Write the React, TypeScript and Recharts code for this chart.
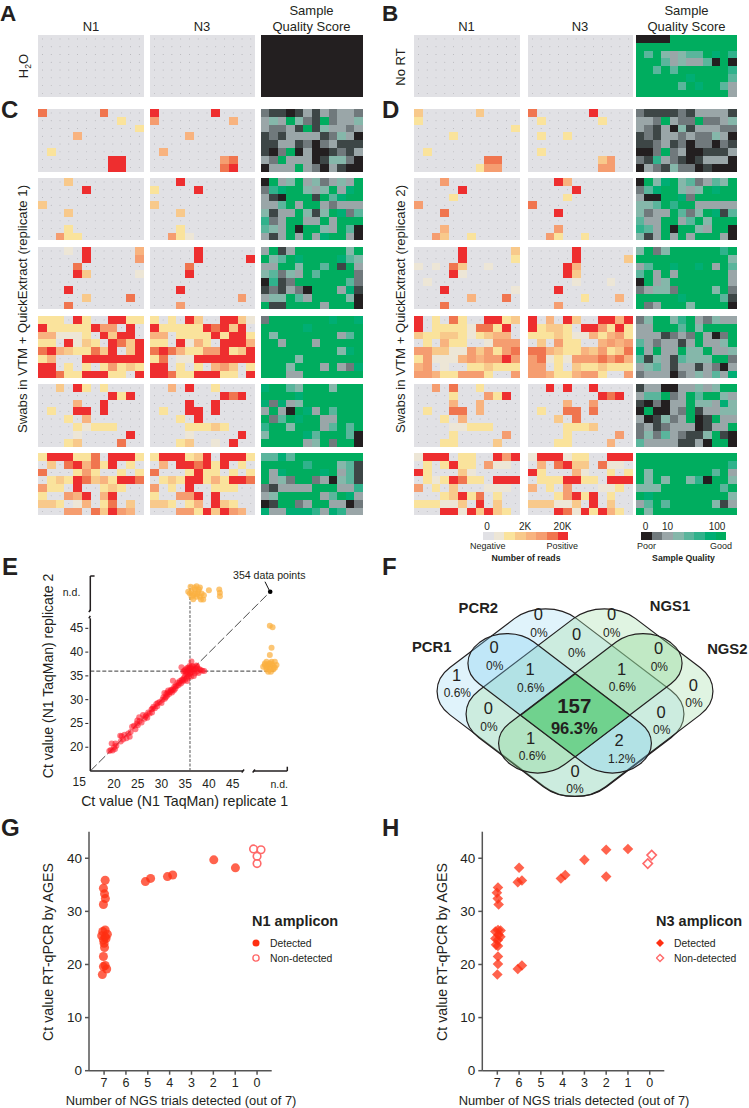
import React from "react";
import { ScatterChart, Scatter, XAxis, YAxis, ReferenceLine, Legend } from "recharts";

// ---------- plate data: each digit is a binned read level (0-7) or quality level (0-8) ----------
const EMPTY = ["000000000000","000000000000","000000000000","000000000000","000000000000","000000000000","000000000000","000000000000"];
const A_Q = ["000000000000","000000000000","000000000000","000000000000","000000000000","000000000000","000000000000","000000000000"];
const B_Q = ["000088888888","888888888888","858434558786","888534335080","885858888886","888888788885","888885878853","888888888883"];

const C1_N1 = ["600000060000","000000000200","000000000002","000040000000","000000000000","020000000000","000000007700","000000007700"];
const C1_N3 = ["700000070000","500000000400","000000000000","000040000000","000000000000","040000000000","000000005600","000000006700"];
const C1_Q = ["211013132332","343842182334","322318143323","121333312430","113312023111","102803001213","328333014420","033383203100"];
const C2_N1 = ["000300000000","000007000000","000000000000","300000000000","000300000000","000000000000","000200000000","005220000000"];
const C2_N3 = ["000700000000","200007000000","000000000000","300000000000","000300000000","000000000000","000200000000","005210000000"];
const C2_Q = ["083483423438","267884348378","310888185788","335838832333","413384148725","623883383888","543808843850","313838378830"];
const C3_N1 = ["000107000004","000007000005","000060000000","000073000001","000000000000","000700000000","000003000060","000600000000"];
const C3_N3 = ["000007000000","000007000007","000060000000","000070000000","000000000000","000700000000","000000000050","000500000000"];
const C3_Q = ["381388888848","845878888754","338848858183","452438588882","061288888852","121320888371","344853888840","811888838880"];
const C4_N1 = ["222072007722","722222755070","441112073770","220713207637","674322637037","240007777777","770202025232","776227772207"];
const C4_N3 = ["202073007731","722222767370","440222272772","220714207774","676422557237","260117777777","770202045302","776227772207"];
const C4_Q = ["288888887887","888887888888","848888888358","883888388888","888888888478","888848888888","888488838327","888338888888"];
const C5_N1 = ["003072020000","000000007270","000040070000","020077070000","000204000000","000021222000","000010000070","000230000600"];
const C5_N3 = ["004070020000","000000007670","000070070000","020077070000","000207000000","000022232000","000010000070","000230010700"];
const C5_Q = ["788548884888","888878888888","727348888888","383087385888","825878833888","688488835858","488887588850","888883482880"];
const C6_N1 = ["277722607772","030674627020","600025200202","023276342776","522070023200","200547047000","332014026030","000550637540"];
const C6_N3 = ["277723707772","040776727020","600027220202","023277242776","502070022200","200557070000","332024073200","000552737540"];
const C6_Q = ["557588888888","888886888451","837888878351","834288230451","213333888336","348888835873","018823883302","733777637633"];

const D1_N1 = ["300000030000","200000000000","000000000002","000020000000","000000000000","020000000000","000000006600","000000025500"];
const D1_N3 = ["600000070000","020000002000","000000000000","020020000000","000000000000","020000000000","000000003500","000000005500"];
const D1_Q = ["211112133331","332832282234","321304133322","121332322430","112312022021","002823001113","216321013330","032142201000"];
const D2_N1 = ["000500000000","000007000000","000020000000","500000000000","000600000000","000000000000","000400000000","005300200000"];
const D2_N3 = ["000740000000","000007000000","000020000000","600000000000","000700000000","000000000000","000500000000","005200200000"];
const D2_Q = ["084784523548","257884348788","300887288888","445868833333","423385248715","533883584888","653808843880","413838388830"];
const D3_N1 = ["000007000003","000007000002","101063001000","000071000000","010000000000","000700000001","000000400060","000600000000"];
const D3_N3 = ["000007000000","000007000003","000074000000","000073000000","000001000100","000700000000","000000200040","000500000000"];
const D3_Q = ["482488888868","888888888884","358878878385","583838888883","083488888883","234428888482","888887888851","823888488880"];
const D4_N1 = ["702062007723","702222166270","322332123440","020422001555","553311535256","251114545575","450100223222","554225552005"];
const D4_N3 = ["704073007747","723320775272","222321142452","030522004545","664322435236","561215556564","550203223222","554224552005"];
const D4_Q = ["248846832433","338885848888","333123283028","532331383348","738338448334","514315444882","345313313203","233302343537"];
const D5_N1 = ["005060020000","000020005270","000040040000","020066040000","000204000000","000011222000","000020000050","000220000300"];
const D5_N3 = ["007070070000","000000007670","000040050000","020066060000","000306000000","000022230000","000020000050","000220000400"];
const D5_Q = ["133003343488","355823858843","102033844374","080032813344","301423801833","231233301338","242532114810","533331130880"];
const D6_N1 = ["177702200757","020272205110","720003100000","021276220777","502030001110","000237260200","222113070300","000771737320"];
const D6_N3 = ["177712200777","040673306110","720004100202","022277220777","402050001120","000257270200","333113070300","000761727420"];
const D6_Q = ["888888888888","888888888886","848888888583","848488460884","444888888858","878888888884","358588888413","848888888888"];

const HEAT_LEGEND = ["01234567"];
const QUAL_LEGEND = ["02345678"];

// ---------- panel E ----------
const E_RED: number[][] = [[19,19.2],[19.3,19.4],[19.7,19.3],[20,20],[20.2,19.6],[20.5,20.3],[20.3,20.8],[19.5,20.8],[21.4,21.2],[21.6,22.3],[21.9,21.6],[21.3,22.4],[22.2,22.6],[22.6,21.9],[23,22.9],[23.3,22.2],[23.5,23.2],[23.8,24.3],[24.2,24.5],[24.5,23.8],[24.8,25],[25,24.6],[25.4,25.5],[25.3,26.3],[25.8,25.2],[26.1,26.8],[26.4,26],[26.8,26.7],[27,26.2],[27.2,27.3],[27.5,27.1],[27.9,28],[28,27.3],[28.3,28.5],[28.6,28.2],[28.9,29.1],[29.1,28.6],[29.2,29.3],[30,29.3],[30.2,30],[30.4,30.5],[30.6,31.4],[30.9,30.5],[31,31.2],[31.2,30.8],[31.4,31.9],[31.6,31.2],[31.8,31.6],[32,32.1],[32.2,31.5],[32.4,32.2],[32.6,31.9],[32.7,32.7],[32.4,34],[32.9,32.3],[33.2,32.8],[33.4,33.6],[33.6,33.1],[33.9,33.9],[34.1,33.4],[34.3,34.2],[34.5,33.8],[34.7,34.5],[34.9,34.9],[35,34.2],[35.2,35.4],[35.4,34.6],[35.6,35.2],[35.8,34.9],[36,35.5],[34.2,36.8],[34.6,35.9],[34.8,36],[35,36.3],[35.2,35.8],[35.3,36.6],[35.5,36.1],[35.6,36.7],[35.7,35.9],[35.8,36.4],[35.9,37.1],[36,36.2],[36.1,36.8],[36.2,35.7],[36.3,36.5],[36.3,38],[36.4,37.1],[36.5,35.8],[36.6,36.4],[36.7,36.9],[36.9,36.2],[37,35.5],[37.2,36.5],[37.3,37.2],[37.5,35.9],[37.6,36.6],[37.8,35.6],[38,36.4],[38.3,36.2],[38.6,36.1],[39,36],[36.8,35],[36.2,34.8],[35.4,33.9],[37.5,37],[24.9,25.6],[26.6,26.4],[28.1,28.1],[29.6,29.5],[30.7,30.2],[31.3,31.5],[32.1,31.9],[33,33],[33.7,33.5],[34.4,34.1]];
const E_ORANGE_TOP: number[][] = [[36.12,53.73],[37.39,53.86],[38.09,53.58],[35.63,52.67],[36.33,52.67],[37.04,53.16],[37.74,52.67],[38.44,52.32],[36.68,51.97],[37.39,51.62],[38.79,51.06],[38.09,51.62],[36.33,51.62],[35.98,52.32],[37.04,52.32],[37.88,53.16],[36.89,53.58],[38.93,51.97],[39.98,53.03],[42.16,53.16],[42.3,52.47],[42.3,51.76],[36.68,51.13],[38.3,51.06],[37.53,52.18]];
const E_ORANGE_RIGHT: number[][] = [[52.82,45.53],[53.39,45.25],[53.18,40.91],[52.82,39.37],[52.12,37.97],[53.18,37.97],[53.88,37.97],[51.77,37.27],[52.47,37.27],[53.39,37.27],[54.23,37.27],[51.42,36.92],[52.12,36.78],[52.96,36.92],[53.67,36.78],[51.77,37.62],[52.68,37.62],[52.12,36.36],[52.82,36.36],[53.53,36.36],[52.47,35.87],[53.04,35.87],[52.3,37.0],[53.0,37.6],[53.9,36.7]];
const E_END = [{ x: 52.9, y: 52.7 }];
const E_X_TICKS = [15, 20, 25, 30, 35, 40, 45, 52.9];
const E_Y_TICKS = [20, 25, 30, 35, 40, 45, 52.7];

// ---------- panel F ----------
const VENN_REGIONS = ["A","B","C","D","AB","BC","CD","ABC","BCD","AC","BD","ACD","ABD","AD"];
const VENN_COUNTS = ["1","0","0","0","0","0","0","1","1","0","0","1","2","0"];
const VENN_PCTS = ["0.6%","0%","0%","0%","0%","0%","0%","0.6%","0.6%","0%","0%","0.6%","1.2%","0%"];
const VENN_TOTAL = "157";
const VENN_TOTAL_PCT = "96.3%";
const VENN_SETS = ["PCR1","PCR2","NGS1","NGS2"];

// ---------- panels G, H ----------
const G_DETECTED: number[][] = [[6.95,35.85],[7.03,34.35],[6.98,33.3],[6.94,32.4],[7.03,31.3],[6.95,26.5],[7.06,26.2],[6.85,25.7],[7.11,25.4],[6.95,25.2],[7.03,24.6],[6.91,24.9],[7,24],[6.98,23.2],[7.03,21.5],[6.95,19.8],[6.88,19.15],[7.03,19.6],[7.08,18.1],[5.11,35.6],[4.87,36.2],[4.1,36.55],[3.86,36.85],[1.98,39.7],[0.99,38.2]];
const G_NON: number[][] = [[0.16,41.75],[-0.18,41.6],[0,40.4],[0,39]];
const H_DETECTED: number[][] = [[6.97,34.5],[7.02,33.5],[6.98,32.4],[6.94,31.3],[6.97,26.5],[7.09,26.2],[6.85,26.4],[6.94,25.6],[7.09,24.9],[6.86,25.2],[6.97,24.6],[6.97,23.5],[7.06,23.7],[6.97,21.5],[6.97,20.1],[7,18.1],[6,38.2],[6.06,35.5],[5.87,35.8],[6.06,19.15],[5.87,19.8],[4.08,36.2],[3.88,36.85],[3,39.7],[2,41.6],[2,36.55],[1,41.75]];
const H_NON: number[][] = [[0.09,39],[-0.09,40.6]];
const TRIAL_TICKS = [7, 6, 5, 4, 3, 2, 1, 0];
const CT_TICKS = [0, 10, 20, 30, 40];

// ---------- styles and layout ----------
const INK = "#231f20";
const FONT = "'Liberation Sans', Arial, sans-serif";
const HEAT = ["#e1e1e5","#ede6d6","#fae39c","#f8c98b","#f8b37f","#f59d70","#f0754f","#ee2e2f"];
const QUAL = ["#231f20","#3d4646","#70797c","#9aa6a8","#85b7aa","#5ab59c","#30b28c","#00ae74","#00ad5f"];

const toCells = (rows: string[]) =>
  rows.flatMap((r, i) => r.split("").map((c, j) => ({ col: j + 0.5, row: i + 0.5, level: Number(c) })));

function Plate({ left, top, width, height, rows, palette, specks }: any) {
  const nc = rows[0].length, nr = rows.length;
  const w = width / nc, h = height / nr;
  const shape = (p: any) => (
    <g>
      <rect x={p.cx - w / 2} y={p.cy - h / 2} width={w + 0.4} height={h + 0.4} fill={palette[p.payload.level]} shapeRendering="crispEdges" />
      {specks && p.payload.level === 0 ? <circle cx={p.cx} cy={p.cy} r={0.45} fill="#95959a" /> : null}
    </g>
  );
  return (
    <div style={{ position: "absolute", left, top }}>
      <ScatterChart width={width} height={height} margin={{ left: 0, right: 0, top: 0, bottom: 0 }}>
        <XAxis type="number" dataKey="col" domain={[0, nc]} hide />
        <YAxis type="number" dataKey="row" domain={[0, nr]} reversed hide />
        <Scatter data={toCells(rows)} isAnimationActive={false} shape={shape} />
      </ScatterChart>
    </div>
  );
}

const XCOL = [38.3, 149.5, 261, 414.3, 528.2, 636.3];
const XW = [105.7, 105.2, 101.5, 105.7, 105, 100.7];
const YROW = [35, 109.3, 178, 247, 316, 384.3, 453];
const YH = 62.3;
const PLATES: string[][][][] = [
  [[EMPTY, EMPTY, A_Q], [EMPTY, EMPTY, B_Q]],
  [[C1_N1, C1_N3, C1_Q], [D1_N1, D1_N3, D1_Q]],
  [[C2_N1, C2_N3, C2_Q], [D2_N1, D2_N3, D2_Q]],
  [[C3_N1, C3_N3, C3_Q], [D3_N1, D3_N3, D3_Q]],
  [[C4_N1, C4_N3, C4_Q], [D4_N1, D4_N3, D4_Q]],
  [[C5_N1, C5_N3, C5_Q], [D5_N1, D5_N3, D5_Q]],
  [[C6_N1, C6_N3, C6_Q], [D6_N1, D6_N3, D6_Q]],
];

function Plates() {
  const out: any[] = [];
  PLATES.forEach((row, r) =>
    row.forEach((side, s) =>
      side.forEach((rows, k) => {
        const idx = s * 3 + k;
        out.push(
          <Plate key={`${r}-${idx}`} left={XCOL[idx]} top={YROW[r]} width={XW[idx]} height={YH} rows={rows}
            palette={k === 2 ? QUAL : HEAT} specks={k !== 2} />
        );
      })
    )
  );
  return <>{out}</>;
}

const pts = (a: number[][]) => a.map(([x, y]) => ({ x, y }));
const dot = (r: number, fill: string, o: number) => (p: any) => <circle cx={p.cx} cy={p.cy} r={r} fill={fill} fillOpacity={o} />;

function ETickX({ x, y, payload }: any) {
  const v = payload.value;
  if (v === 15) return <text x={x - 11} y={y + 7} fontSize={12} textAnchor="middle" fill={INK}>15</text>;
  if (v === 52.9) return <text x={x + 9} y={y + 9} fontSize={10.5} textAnchor="middle" fill={INK}>n.d.</text>;
  return <text x={x} y={y + 9} fontSize={12} textAnchor="middle" fill={INK}>{v}</text>;
}
function ETickY({ x, y, payload }: any) {
  const v = payload.value;
  if (v === 52.7) return <text x={x - 2} y={y + 4} fontSize={10.5} textAnchor="end" fill={INK}>n.d.</text>;
  return (
    <g>
      <line x1={x + 3} x2={x + 6} y1={y} y2={y} stroke={INK} strokeWidth={1} />
      <text x={x + 1} y={y + 4} fontSize={12} textAnchor="end" fill={INK}>{v}</text>
    </g>
  );
}

const SP = { stroke: INK, strokeWidth: 1.5, ifOverflow: "visible" as const };

function PanelE() {
  return (
    <div style={{ position: "absolute", left: 0, top: 560 }}>
      <ScatterChart width={330} height={250} margin={{ left: 0, right: 42.7, top: 16, bottom: 0 }}>
        <XAxis type="number" dataKey="x" domain={[15, 56.5]} ticks={E_X_TICKS} interval={0} axisLine={false} tickLine={false} height={39} tick={<ETickX />} />
        <YAxis type="number" dataKey="y" domain={[15, 56]} ticks={E_Y_TICKS} interval={0} axisLine={false} tickLine={false} width={90.3} tick={<ETickY />} />
        <ReferenceLine segment={[{ x: 15, y: 15 }, { x: 15, y: 47.1 }]} {...SP} />
        <ReferenceLine segment={[{ x: 15, y: 48.6 }, { x: 15, y: 56 }]} {...SP} />
        <ReferenceLine segment={[{ x: 15, y: 56 }, { x: 15.9, y: 56 }]} {...SP} />
        <ReferenceLine segment={[{ x: 14.7, y: 48.4 }, { x: 15, y: 48.9 }]} {...SP} />
        <ReferenceLine segment={[{ x: 14.7, y: 47.1 }, { x: 15, y: 47.6 }]} {...SP} />
        <ReferenceLine segment={[{ x: 15, y: 15 }, { x: 47.2, y: 15 }]} {...SP} />
        <ReferenceLine segment={[{ x: 46.9, y: 14.7 }, { x: 47.4, y: 15.3 }]} {...SP} />
        <ReferenceLine segment={[{ x: 49.4, y: 15 }, { x: 56.5, y: 15 }]} {...SP} />
        <ReferenceLine segment={[{ x: 49.2, y: 14.7 }, { x: 49.7, y: 15.3 }]} {...SP} />
        <ReferenceLine segment={[{ x: 56.5, y: 15 }, { x: 56.5, y: 15.9 }]} {...SP} />
        <ReferenceLine segment={[{ x: 15, y: 15 }, { x: 52.9, y: 52.7 }]} stroke="#333" strokeWidth={0.9} strokeDasharray="9 3" ifOverflow="visible" />
        <ReferenceLine segment={[{ x: 15, y: 36 }, { x: 54, y: 36 }]} stroke="#222" strokeWidth={0.9} strokeDasharray="4 2" ifOverflow="visible" />
        <ReferenceLine segment={[{ x: 36, y: 15 }, { x: 36, y: 54 }]} stroke="#555" strokeWidth={1} strokeDasharray="3 1.5" ifOverflow="visible" />
        <ReferenceLine segment={[{ x: 51.8, y: 54.8 }, { x: 52.7, y: 53 }]} stroke="#111" strokeWidth={1} ifOverflow="visible" />
        <Scatter name="Orange n.d. replicate 2" data={pts(E_ORANGE_TOP)} isAnimationActive={false} shape={dot(3, "#fbb040", 0.72)} />
        <Scatter name="Orange n.d. replicate 1" data={pts(E_ORANGE_RIGHT)} isAnimationActive={false} shape={dot(3, "#fbb040", 0.72)} />
        <Scatter name="Both detected" data={pts(E_RED)} isAnimationActive={false} shape={dot(3, "#ff1020", 0.55)} />
        <Scatter name="Both negative" data={E_END} isAnimationActive={false} shape={dot(2.3, "#000", 1)} />
      </ScatterChart>
    </div>
  );
}

// Venn
const VENN_SHAPE_POS = [{ x: 541.5, y: 397.9 }, { x: 628.5, y: 397.9 }, { x: 539, y: 400 }, { x: 631, y: 400 }, { x: 585.75, y: 435.7 }];
const VENN_SHAPE_STYLE = [
  { w: 221.6, h: 179.1, r: 44, a: 45, fill: "#a9def5", o: 0.36 },
  { w: 221.6, h: 179.1, r: 44, a: -45, fill: "#a8e0b0", o: 0.36 },
  { w: 226.5, h: 77.5, r: 38, a: 45, fill: "#7cccf2", o: 0.32 },
  { w: 226.5, h: 77.5, r: 38, a: -45, fill: "#7fd58a", o: 0.32 },
  { w: 77.3, h: 77.3, r: 0, a: 45, fill: "#70d28e", o: 1 },
];
const VENN_COUNT_POS = [[230,315],[475,133],[695,133],[940,345],[342,232],[590,193],[836,235],[450,298],[725,298],[325,415],[843,425],[452,503],[717,510],[585,602]];
const VENN_PCT_POS = [[232,370],[477,190],[695,190],[942,400],[344,287],[590,248],[838,290],[452,355],[727,352],[327,470],[845,480],[457,558],[725,566],[585,658]];
const VENN_SET_POS = [[155,232],[295,115],[870,107],[1042,238]];

const vennShape = (p: any) => {
  const s = VENN_SHAPE_STYLE[p.payload.i];
  return (
    <g transform={`translate(${p.cx} ${p.cy}) scale(1 0.76) rotate(${s.a})`}>
      <rect x={-s.w / 2} y={-s.h / 2} width={s.w} height={s.h} rx={s.r} ry={s.r} fill={s.fill} fillOpacity={s.o}
        stroke={INK} strokeWidth={1.2} vectorEffect="non-scaling-stroke" />
    </g>
  );
};
const vennText = (size: number, weight: number | string) => (p: any) => (
  <text x={p.cx} y={p.cy} fontSize={size} fontWeight={weight} fill={INK} textAnchor="middle" dominantBaseline="central">{p.payload.t}</text>
);

function PanelF() {
  const at = (pos: number[][], t: string[]) => pos.map(([x, y], i) => ({ x, y, t: t[i], region: VENN_REGIONS[i] }));
  return (
    <div style={{ position: "absolute", left: 380, top: 570 }}>
      <ScatterChart width={369} height={250} margin={{ left: 0, right: 0, top: 0, bottom: 0 }}>
        <XAxis type="number" dataKey="x" domain={[0, 1107]} hide />
        <YAxis type="number" dataKey="y" domain={[0, 750]} reversed hide />
        <Scatter data={VENN_SHAPE_POS.map((q, i) => ({ ...q, i }))} isAnimationActive={false} shape={vennShape} />
        <Scatter data={at(VENN_COUNT_POS, VENN_COUNTS)} isAnimationActive={false} shape={vennText(16.5, 400)} />
        <Scatter data={at(VENN_PCT_POS, VENN_PCTS)} isAnimationActive={false} shape={vennText(12, 400)} />
        <Scatter data={[{ x: 583, y: 405, t: VENN_TOTAL }]} isAnimationActive={false} shape={vennText(20.5, 700)} />
        <Scatter data={[{ x: 583, y: 473, t: VENN_TOTAL_PCT }]} isAnimationActive={false} shape={vennText(16.5, 700)} />
        <Scatter data={at(VENN_SET_POS, VENN_SETS)} isAnimationActive={false} shape={vennText(14.8, 700)} />
      </ScatterChart>
    </div>
  );
}

const diamondPath = (cx: number, cy: number, r: number) => `M${cx} ${cy - r}L${cx + r} ${cy}L${cx} ${cy + r}L${cx - r} ${cy}Z`;
const filledDiamond = (p: any) => <path d={diamondPath(p.cx, p.cy, 5.3)} fill="#ff2f12" fillOpacity={0.75} />;
const openDiamond = (p: any) => <path d={diamondPath(p.cx, p.cy, 4.7)} fill="none" stroke="#ff6a6a" strokeWidth={1.6} />;
const filledCircle = (p: any) => <circle cx={p.cx} cy={p.cy} r={4.5} fill="#ff2f12" fillOpacity={0.75} />;
const openCircle = (p: any) => <circle cx={p.cx} cy={p.cy} r={3.8} fill="none" stroke="#ff6a6a" strokeWidth={1.6} />;

function AmpliconChart({ left, width, plotLeft, plotRight, detected, non, diamond, title, legendLeft }: any) {
  const axis = { stroke: "#555", strokeWidth: 1.5 };
  const tick = { fill: INK, fontSize: 12.5 };
  return (
    <div style={{ position: "absolute", left, top: 825 }}>
      <ScatterChart width={width} height={283} margin={{ left: 0, right: left + width - plotRight, top: 6.7, bottom: 0 }}>
        <XAxis type="number" dataKey="x" domain={[-0.67, 7.69]} reversed ticks={TRIAL_TICKS} interval={0} height={37.3}
          axisLine={axis} tickLine={axis} tickSize={4} tickMargin={3} tick={tick} />
        <YAxis type="number" dataKey="y" domain={[0, 45]} ticks={CT_TICKS} interval={0} width={plotLeft - left}
          axisLine={axis} tickLine={axis} tickSize={4} tickMargin={3} tick={{ fill: INK, fontSize: 13.5 }} />
        <Scatter name="Detected" data={pts(detected)} isAnimationActive={false} shape={diamond ? filledDiamond : filledCircle} />
        <Scatter name="Non-detected" data={pts(non)} isAnimationActive={false} shape={diamond ? openDiamond : openCircle} />
        <Legend layout="vertical" align="center" verticalAlign="middle"
          wrapperStyle={{ position: "absolute", left: legendLeft, top: 86, width: 125, height: 60 }}
          content={() => (
            <svg width={125} height={60} style={{ display: "block", fontFamily: FONT }}>
              <text x={0} y={15} fontSize={14.5} fontWeight={700} fill={INK}>{title}</text>
              {diamond ? <path d={diamondPath(4, 32, 4)} fill="#ff2f12" /> : <circle cx={4} cy={32} r={3.5} fill="#ff2f12" />}
              <text x={18} y={36} fontSize={10.4} fill={INK}>Detected</text>
              {diamond ? <path d={diamondPath(4, 47, 3.6)} fill="none" stroke="#ff6a6a" strokeWidth={1.4} /> : <circle cx={4} cy={47} r={3.1} fill="none" stroke="#ff6a6a" strokeWidth={1.4} />}
              <text x={18} y={51} fontSize={10.4} fill={INK}>Non-detected</text>
            </svg>
          )} />
      </ScatterChart>
    </div>
  );
}

function T({ x, y, s = 13, w = 400, a = "middle", rot, children }: any) {
  return (
    <text x={x} y={y} fontSize={s} fontWeight={w} textAnchor={a} fill={INK}
      transform={rot ? `rotate(${rot} ${x} ${y})` : undefined}>{children}</text>
  );
}

function Overlay() {
  return (
    <svg width={749} height={1108} style={{ position: "absolute", left: 0, top: 0, pointerEvents: "none" }}>
      <T x={0} y={20.5} s={22.5} w={700} a="start">A</T>
      <T x={382} y={20.5} s={22.5} w={700} a="start">B</T>
      <T x={1} y={118} s={24} w={700} a="start">C</T>
      <T x={382} y={118} s={24} w={700} a="start">D</T>
      <T x={2} y={575} s={24} w={700} a="start">E</T>
      <T x={382} y={575} s={24} w={700} a="start">F</T>
      <T x={1} y={836} s={24} w={700} a="start">G</T>
      <T x={382} y={836} s={24} w={700} a="start">H</T>

      <T x={91} y={30.5}>N1</T>
      <T x={202} y={30.5}>N3</T>
      <T x={311.5} y={14.5}>Sample</T>
      <T x={311.5} y={30.5}>Quality Score</T>
      <T x={466.5} y={30.5}>N1</T>
      <T x={580} y={30.5}>N3</T>
      <T x={686.5} y={14.5}>Sample</T>
      <T x={686.5} y={30.5}>Quality Score</T>

      <text x={28} y={66} fontSize={13} textAnchor="middle" fill={INK} transform="rotate(-90 28 66)">
        H<tspan fontSize={8.5} dy={3}>2</tspan><tspan dy={-3}>O</tspan>
      </text>
      <T x={405} y={67} s={13} rot={-90}>No RT</T>
      <T x={27} y={309} s={13.2} rot={-90}>Swabs in VTM + QuickExtract (replicate 1)</T>
      <T x={404.5} y={309} s={13.2} rot={-90}>Swabs in VTM + QuickExtract (replicate 2)</T>

      <T x={487} y={530} s={10}>0</T>
      <T x={525} y={530} s={10}>2K</T>
      <T x={562.5} y={530} s={10}>20K</T>
      <T x={470} y={549} s={9} a="start">Negative</T>
      <T x={546.5} y={549} s={9} a="start">Positive</T>
      <T x={526} y={560.5} s={8.7} w={700}>Number of reads</T>
      <T x={645.5} y={530} s={10}>0</T>
      <T x={667.5} y={530} s={10}>10</T>
      <T x={717} y={530} s={10}>100</T>
      <T x={637} y={549} s={9} a="start">Poor</T>
      <T x={710} y={549} s={9} a="start">Good</T>
      <T x={683.5} y={560.5} s={8.7} w={700}>Sample Quality</T>

      <T x={233} y={578.5} s={10.6} a="start">354 data points</T>
      <T x={53} y={676} s={14} rot={-90}>Ct value (N1 TaqMan) replicate 2</T>
      <T x={184.7} y={806} s={14.2}>Ct value (N1 TaqMan) replicate 1</T>

      <T x={53} y={952} s={14.2} rot={-90}>Ct value RT-qPCR by AGES</T>
      <T x={181} y={1105} s={12.9}>Number of NGS trials detected (out of 7)</T>
      <T x={447} y={952} s={14.2} rot={-90}>Ct value RT-qPCR by AGES</T>
      <T x={574} y={1105} s={12.9}>Number of NGS trials detected (out of 7)</T>
    </svg>
  );
}

export default function App() {
  return (
    <div style={{ position: "absolute", left: 0, top: 0, width: 749, height: 1108, overflow: "hidden", background: "#fff", fontFamily: FONT }}>
      <Plates />
      <Plate left={483} top={531.7} width={85.3} height={8.4} rows={HEAT_LEGEND} palette={HEAT} />
      <Plate left={640.7} top={531.7} width={85.3} height={8.4} rows={QUAL_LEGEND} palette={QUAL} />
      <PanelE />
      <PanelF />
      <AmpliconChart left={0} width={375} plotLeft={89} plotRight={271.7} detected={G_DETECTED} non={G_NON} title="N1 amplicon" legendLeft={252} />
      <AmpliconChart left={375} width={374} plotLeft={482.3} plotRight={664.3} detected={H_DETECTED} non={H_NON} diamond title="N3 amplicon" legendLeft={656 - 375} />
      <Overlay />
    </div>
  );
}
